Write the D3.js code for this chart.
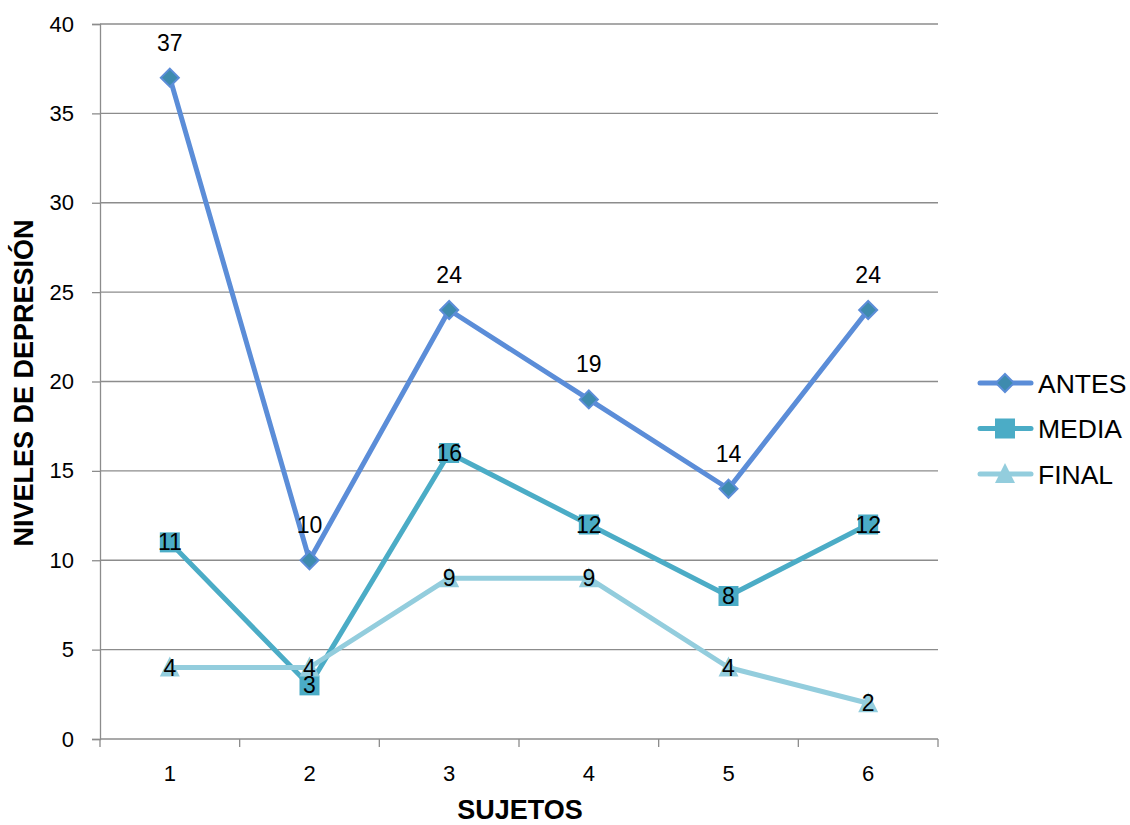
<!DOCTYPE html>
<html>
<head>
<meta charset="utf-8">
<script src="https://cdn.jsdelivr.net/npm/d3@7"></script>
<style>
  html, body { margin: 0; padding: 0; background: #fff; }
  svg { display: block; font-family: "Liberation Sans", Arial, sans-serif; }
</style>
</head>
<body>
<svg id="chart" width="1130" height="825"></svg>
<script>
// Sujetos y niveles de depresión en tres momentos
const sujetos = ["1", "2", "3", "4", "5", "6"];
const antes = [37, 10, 24, 19, 14, 24];
const media = [11, 3, 16, 12, 8, 12];
const final = [4, 4, 9, 9, 4, 2];
const yTicks = [0, 5, 10, 15, 20, 25, 30, 35, 40];

const series = [
  { name: "ANTES", values: antes, line: "#5B8DD8", fill: "#3E8BAE", marker: "diamond", labelAbove: true },
  { name: "MEDIA", values: media, line: "#4BACC6", fill: "#4BACC6", marker: "square", labelAbove: false },
  { name: "FINAL", values: final, line: "#93CDDD", fill: "#93CDDD", marker: "triangle", labelAbove: false }
];

const svg = d3.select("#chart");
const plotLeft = 100, plotRight = 938, plotTop = 24, plotBottom = 739;
const axisGrey = "#8c8c8c";

const x = d3.scaleBand().domain(sujetos).range([plotLeft, plotRight]);
const y = d3.scaleLinear().domain([0, 40]).range([plotBottom, plotTop]);

// Horizontal gridlines
svg.append("g").selectAll("line").data(yTicks.filter(d => d > 0)).join("line")
  .attr("x1", plotLeft).attr("x2", plotRight)
  .attr("y1", d => y(d)).attr("y2", d => y(d))
  .attr("stroke", axisGrey).attr("stroke-width", 1.3);

// Y axis
const yAxis = svg.append("g").attr("transform", `translate(${plotLeft},0)`)
  .call(d3.axisLeft(y).tickValues(yTicks).tickSize(8).tickPadding(18));
yAxis.select(".domain").attr("stroke", axisGrey).attr("stroke-width", 1.3);
yAxis.selectAll(".tick line").attr("stroke", axisGrey).attr("stroke-width", 1.3);
yAxis.selectAll(".tick text").attr("font-size", 22).attr("fill", "#000")
  .attr("font-family", "Liberation Sans, Arial, sans-serif");

// X axis with tick marks at category boundaries
const xAxisG = svg.append("g").attr("transform", `translate(0,${plotBottom})`)
  .call(d3.axisBottom(x).tickSize(0).tickPadding(26));
xAxisG.select(".domain").remove();
xAxisG.selectAll(".tick text").attr("font-size", 22).attr("fill", "#000")
  .attr("font-family", "Liberation Sans, Arial, sans-serif");
svg.append("line").attr("x1", plotLeft).attr("x2", plotRight).attr("y1", plotBottom).attr("y2", plotBottom)
  .attr("stroke", axisGrey).attr("stroke-width", 1.3);
const bounds = sujetos.map(s => x(s)).concat([x(sujetos[sujetos.length - 1]) + x.bandwidth()]);
svg.append("g").selectAll("line").data(bounds).join("line")
  .attr("x1", d => d).attr("x2", d => d).attr("y1", plotBottom).attr("y2", plotBottom + 8)
  .attr("stroke", axisGrey).attr("stroke-width", 1.3);

const cx = s => x(s) + x.bandwidth() / 2;

function drawMarker(g, type, px, py, fill) {
  if (type === "diamond") {
    const r = 9;
    g.append("path").attr("d", `M${px},${py - r}L${px + r},${py}L${px},${py + r}L${px - r},${py}Z`)
      .attr("fill", fill).attr("stroke", "#5B8DD8").attr("stroke-width", 2);
  } else if (type === "square") {
    const r = 10;
    g.append("rect").attr("x", px - r).attr("y", py - r).attr("width", 2 * r).attr("height", 2 * r)
      .attr("fill", fill);
  } else {
    const w = 20;
    g.append("path").attr("d", `M${px},${py - 11}L${px + w / 2},${py + 9}L${px - w / 2},${py + 9}Z`)
      .attr("fill", fill);
  }
}

const line = d3.line().x((d, i) => cx(sujetos[i])).y(d => y(d));

// Lines
series.forEach(s => {
  svg.append("path").datum(s.values).attr("d", line)
    .attr("fill", "none").attr("stroke", s.line).attr("stroke-width", 5)
    .attr("stroke-linejoin", "round").attr("stroke-linecap", "round");
});

// Markers
series.forEach(s => {
  const g = svg.append("g");
  s.values.forEach((v, i) => drawMarker(g, s.marker, cx(sujetos[i]), y(v), s.fill));
});

// Value labels
series.forEach(s => {
  svg.append("g").selectAll("text").data(s.values).join("text")
    .attr("x", (d, i) => cx(sujetos[i]))
    .attr("y", d => s.labelAbove ? y(d) - 27 : y(d) + 8)
    .attr("text-anchor", "middle")
    .attr("font-size", 23).attr("fill", "#000")
    .text(d => d);
});

// Legend
const legend = svg.append("g");
series.forEach((s, i) => {
  const ly = 383 + i * 45.5;
  legend.append("line").attr("x1", 980).attr("x2", 1031).attr("y1", ly).attr("y2", ly)
    .attr("stroke", s.line).attr("stroke-width", 5).attr("stroke-linecap", "round");
  drawMarker(legend, s.marker, 1005, ly, s.fill);
  legend.append("text").attr("x", 1038).attr("y", ly + 9.5)
    .attr("font-size", 26.5).attr("fill", "#000").text(s.name);
});

// Axis titles
svg.append("text").attr("x", 520).attr("y", 819).attr("text-anchor", "middle")
  .attr("font-size", 27).attr("font-weight", "bold").attr("fill", "#000").text("SUJETOS");
svg.append("text").attr("transform", "translate(33,383) rotate(-90)").attr("text-anchor", "middle")
  .attr("font-size", 27).attr("font-weight", "bold").attr("fill", "#000").text("NIVELES DE DEPRESIÓN");
</script>
</body>
</html>
